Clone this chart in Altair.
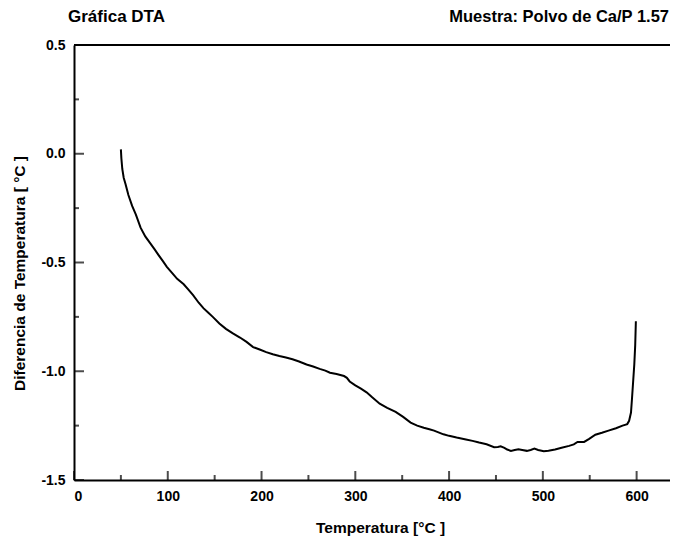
import altair as alt
import pandas as pd

# ---- data ----
temps = [50, 50.5, 51.5, 53, 55, 58, 62, 66, 71, 76, 81, 86, 90, 95, 99, 105, 110,
         117, 122, 127, 133, 138, 143, 148, 155, 162, 169, 177, 184, 191, 198, 205,
         212, 219, 226, 233, 240, 248, 255, 262, 268, 273, 280, 288, 291, 294, 300,
         306, 312, 318, 326, 334, 343, 351, 359, 366, 373, 379, 384, 388, 394, 400,
         408, 418, 425, 432, 440, 448, 452, 455, 459, 462, 466, 470, 474, 478, 483,
         487, 491, 495, 501, 506, 513, 520, 528, 533, 537, 544, 549, 556, 563, 570,
         578, 585, 590, 592, 594, 595, 597.5, 598.5, 599.2]
dta = [0.02, -0.02, -0.07, -0.11, -0.14, -0.19, -0.24, -0.28, -0.34, -0.38, -0.41,
       -0.44, -0.465, -0.495, -0.52, -0.55, -0.575, -0.60, -0.625, -0.65, -0.685,
       -0.71, -0.73, -0.75, -0.78, -0.805, -0.825, -0.845, -0.865, -0.889, -0.90,
       -0.912, -0.922, -0.93, -0.937, -0.945, -0.955, -0.969, -0.978, -0.989,
       -0.997, -1.007, -1.013, -1.022, -1.03, -1.047, -1.065, -1.08, -1.097, -1.12,
       -1.149, -1.168, -1.187, -1.21, -1.236, -1.25, -1.26, -1.267, -1.273, -1.28,
       -1.29, -1.297, -1.305, -1.314, -1.32, -1.328, -1.336, -1.349, -1.348, -1.345,
       -1.352, -1.36, -1.366, -1.362, -1.359, -1.362, -1.366, -1.362, -1.356, -1.362,
       -1.368, -1.366, -1.36, -1.352, -1.343, -1.336, -1.325, -1.325, -1.312, -1.292,
       -1.283, -1.273, -1.262, -1.25, -1.243, -1.228, -1.19, -1.13, -0.97, -0.88,
       -0.77]

x_major = [0, 100, 200, 300, 400, 500, 600]
x_minor = [50, 150, 250, 350, 450, 550]
y_major = [-1.5, -1.0, -0.5, 0.0, 0.5]
y_minor = [-1.25, -0.75, -0.25, 0.25]
x_domain = [0, 635.6]
y_domain = [-1.5, 0.5]

title_left = "Gráfica DTA"
title_right = "Muestra: Polvo de Ca/P 1.57"
x_title = "Temperatura [°C ]"
y_title = "Diferencia de Temperatura [ °C ]"

FONT = "Liberation Sans"
W, H = 596, 435

df = pd.DataFrame({"t": temps, "d": dta})
xs = alt.Scale(domain=x_domain, nice=False, zero=False, padding=0)
ys = alt.Scale(domain=y_domain, nice=False, zero=False, padding=0)

label_expr = "replace(format(datum.value, '.1f'), '\u2212', '-')"

x_axis = alt.Axis(values=x_major, format="d", ticks=False, tickSize=0, grid=False,
                  domain=True, domainColor="black", domainWidth=2,
                  labelFont=FONT, labelFontSize=14, labelFontWeight="bold",
                  labelColor="black", labelPadding=9,
                  title=x_title, titleFont=FONT, titleFontSize=15.5,
                  titleFontWeight="bold", titleColor="black",
                  titleX=306, titleY=52, titleAlign="center",
                  titleBaseline="alphabetic")
y_axis = alt.Axis(values=y_major, labelExpr=label_expr, ticks=False, tickSize=0,
                  grid=False, domain=True, domainColor="black", domainWidth=2,
                  labelFont=FONT, labelFontSize=14, labelFontWeight="bold",
                  labelColor="black", labelPadding=9,
                  title=y_title, titleFont=FONT, titleFontSize=15.5,
                  titleFontWeight="bold", titleColor="black",
                  titleAngle=270, titleX=-50, titleY=228, titleAlign="center",
                  titleBaseline="alphabetic")

curve = alt.Chart(df).mark_line(color="black", strokeWidth=2).encode(
    x=alt.X("t:Q", scale=xs, axis=x_axis),
    y=alt.Y("d:Q", scale=ys, axis=y_axis),
)

top_line = alt.Chart(pd.DataFrame({"a": [x_domain[0]], "b": [x_domain[1]],
                                   "y": [y_domain[1]]})).mark_rule(
    color="black", strokeWidth=2).encode(
    x=alt.X("a:Q", scale=xs), x2="b:Q", y=alt.Y("y:Q", scale=ys))

xmaj = alt.Chart(pd.DataFrame({"v": x_major})).mark_tick(
    orient="vertical", size=9, thickness=2, color="black", yOffset=-4.5).encode(
    x=alt.X("v:Q", scale=xs), y=alt.datum(y_domain[0], scale=ys))
xmin = alt.Chart(pd.DataFrame({"v": x_minor})).mark_tick(
    orient="vertical", size=5, thickness=2, color="black", yOffset=-2.5).encode(
    x=alt.X("v:Q", scale=xs), y=alt.datum(y_domain[0], scale=ys))
ymaj = alt.Chart(pd.DataFrame({"v": y_major})).mark_tick(
    orient="horizontal", size=10, thickness=2, color="black", xOffset=5).encode(
    y=alt.Y("v:Q", scale=ys), x=alt.datum(x_domain[0], scale=xs))
ymin = alt.Chart(pd.DataFrame({"v": y_minor})).mark_tick(
    orient="horizontal", size=5, thickness=2, color="black", xOffset=2.5).encode(
    y=alt.Y("v:Q", scale=ys), x=alt.datum(x_domain[0], scale=xs))

t_left = alt.Chart(pd.DataFrame({"s": [title_left]})).mark_text(
    font=FONT, fontSize=17, fontWeight="bold", color="black", align="left",
    baseline="alphabetic").encode(x=alt.value(-6), y=alt.value(-23), text="s:N")
t_right = alt.Chart(pd.DataFrame({"s": [title_right]})).mark_text(
    font=FONT, fontSize=16.5, fontWeight="bold", color="black", align="right",
    baseline="alphabetic").encode(x=alt.value(595), y=alt.value(-23), text="s:N")

chart = alt.layer(curve, top_line, xmaj, xmin, ymaj, ymin, t_left, t_right).properties(
    width=W, height=H,
    autosize=alt.AutoSizeParams(type="none"),
    padding={"left": 66, "top": 37, "right": 0, "bottom": 56},
).configure_view(stroke=None).configure(background="white")

chart.save("out.html", embed_options={"renderer": "svg", "actions": False})
